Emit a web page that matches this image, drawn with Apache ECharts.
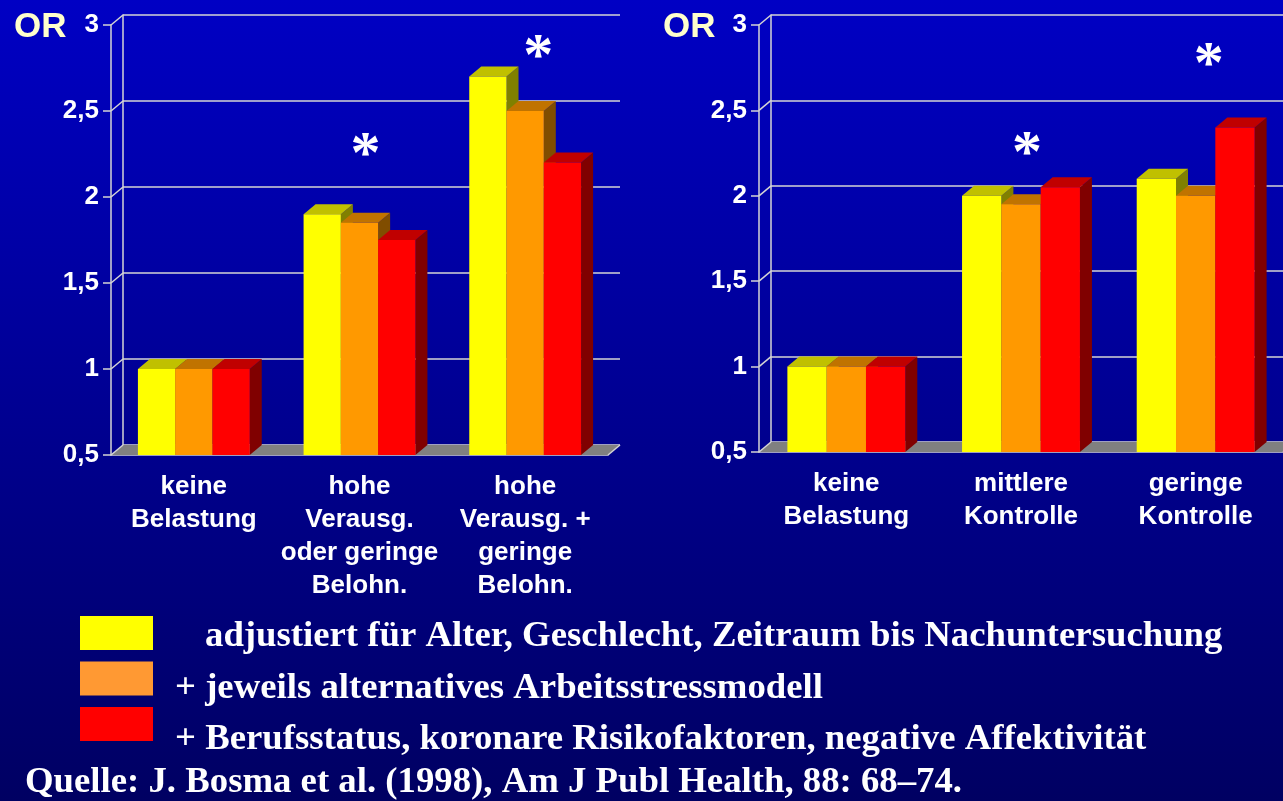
<!DOCTYPE html>
<html>
<head>
<meta charset="utf-8">
<script src="https://cdn.jsdelivr.net/npm/echarts@6/dist/echarts.min.js"></script>
<style>
  html, body { margin: 0; padding: 0; }
  #chart { width: 1283px; height: 801px; }
</style>
</head>
<body>
<div id="chart"></div>
<script>
const leftCategories = ['keine\nBelastung', 'hohe\nVerausg.\noder geringe\nBelohn.', 'hohe\nVerausg. +\ngeringe\nBelohn.'];
const rightCategories = ['keine\nBelastung', 'mittlere\nKontrolle', 'geringe\nKontrolle'];
const seriesNames = [
  'adjustiert für Alter, Geschlecht, Zeitraum bis Nachuntersuchung',
  '+ jeweils alternatives Arbeitsstressmodell',
  '+ Berufsstatus, koronare Risikofaktoren, negative Affektivität'
];
const leftAdjusted = [1.0, 1.9, 2.7];
const leftStressModel = [1.0, 1.85, 2.5];
const leftFullModel = [1.0, 1.75, 2.2];
const rightAdjusted = [1.0, 2.0, 2.1];
const rightStressModel = [1.0, 1.95, 2.0];
const rightFullModel = [1.0, 2.05, 2.4];
const leftStars = [null, 2.3, 2.87];
const rightStars = [null, 2.3, 2.82];
const yTicks = [0.5, 1, 1.5, 2, 2.5, 3];
const yTickLabels = ['0,5', '1', '1,5', '2', '2,5', '3'];
const source = 'Quelle: J. Bosma et al. (1998), Am J Publ Health, 88: 68–74.';

const yMin = 0.5, yMax = 3, yStep = 0.5;
const depthX = 12, depthY = 10;
const lineGray = '#D4D4D4';
const sans = 'Liberation Sans';
const serifFont = 'bold 36.75px "Liberation Serif"';
const barColors = [
  { front: '#FFFF00', top: '#C0C000', side: '#808000' },
  { front: '#FF9900', top: '#C07300', side: '#804D00' },
  { front: '#FF0000', top: '#C00000', side: '#800000' }
];
const legendColors = ['#FFFF00', '#FF9933', '#FF0000'];

const chart = echarts.init(document.getElementById('chart'));

function barRenderer(slot) {
  const c = barColors[slot];
  return function (params, api) {
    const cat = api.value(0);
    const top = api.coord([cat, api.value(1)]);
    const base = api.coord([cat, yMin]);
    const bw = api.size([1, 0])[0] * 0.225;
    const x0 = top[0] - 1.5 * bw + slot * bw;
    const x1 = x0 + bw;
    const yt = top[1], yb = base[1];
    return {
      type: 'group',
      children: [
        { type: 'polygon', shape: { points: [[x1, yt], [x1 + depthX, yt - depthY], [x1 + depthX, yb - depthY], [x1, yb]] }, style: { fill: c.side } },
        { type: 'polygon', shape: { points: [[x0, yt], [x1, yt], [x1 + depthX, yt - depthY], [x0 + depthX, yt - depthY]] }, style: { fill: c.top } },
        { type: 'rect', shape: { x: x0, y: yt, width: bw, height: yb - yt }, style: { fill: c.front } }
      ]
    };
  };
}

// floor + little diagonals from the front axis to the back wall
function wallRenderer(params, api) {
  const cs = params.coordSys;
  const y = api.coord([0, api.value(1)])[1];
  const x = cs.x;
  const children = [
    { type: 'line', shape: { x1: x, y1: y, x2: x + depthX, y2: y - depthY }, style: { stroke: lineGray, lineWidth: 1.5 } }
  ];
  if (params.dataIndex === 0) {
    const xr = cs.x + cs.width;
    children.unshift({ type: 'polygon', shape: { points: [[x, y], [xr, y], [xr + depthX, y - depthY], [x + depthX, y - depthY]] }, style: { fill: '#808080' } });
    children.push({ type: 'line', shape: { x1: xr, y1: y, x2: xr + depthX, y2: y - depthY }, style: { stroke: lineGray, lineWidth: 1.5 } });
  }
  return { type: 'group', children: children };
}

function starRenderer(params, api) {
  const cat = api.value(0);
  const p = api.coord([cat, api.value(1)]);
  const dx = cat === 1 ? 6 : 13;
  return {
    type: 'text', x: p[0] + dx, y: p[1] + 11,
    style: { text: '*', fill: '#FFFFFF', font: 'bold 60px "Liberation Serif"', align: 'center', verticalAlign: 'middle' }
  };
}

function frontX(grid, cats) {
  return {
    gridIndex: grid, type: 'category', data: cats,
    axisLine: { lineStyle: { color: lineGray, width: 1.5 } },
    axisTick: { length: 9, lineStyle: { color: lineGray, width: 1.5 } },
    axisLabel: { interval: 0, color: '#FFFFFF', fontSize: 26, fontWeight: 'bold', fontFamily: sans, lineHeight: 33, margin: 15 },
    splitLine: { show: false }
  };
}
function frontY(grid) {
  return {
    gridIndex: grid, type: 'value', min: yMin, max: yMax, interval: yStep,
    axisLine: { show: true, lineStyle: { color: lineGray, width: 1.5 } },
    axisTick: { show: true, length: 8, lineStyle: { color: lineGray, width: 1.5 } },
    axisLabel: { color: '#FFFFFF', fontSize: 26, fontWeight: 'bold', fontFamily: sans, margin: 12,
      formatter: function (v) { return yTickLabels[yTicks.indexOf(v)]; } },
    splitLine: { show: false }
  };
}
function backX(grid) {
  return { gridIndex: grid, type: 'category', data: [0, 1, 2], show: false };
}
function backY(grid) {
  return {
    gridIndex: grid, type: 'value', min: yMin, max: yMax, interval: yStep,
    axisLine: { show: true, lineStyle: { color: lineGray, width: 1.5 } },
    axisTick: { show: false }, axisLabel: { show: false },
    splitLine: { show: true, lineStyle: { color: lineGray, width: 1.5 } }
  };
}

function chartSeries(axis, values, stars) {
  const list = [{
    type: 'custom', xAxisIndex: axis, yAxisIndex: axis, z: 1, silent: true,
    renderItem: wallRenderer, data: yTicks.map(function (v) { return [0, v]; })
  }];
  values.forEach(function (vals, i) {
    list.push({
      name: seriesNames[i], type: 'custom', xAxisIndex: axis, yAxisIndex: axis, z: 2 + i,
      itemStyle: { color: legendColors[i] },
      renderItem: barRenderer(i),
      data: vals.map(function (v, k) { return [k, v]; })
    });
  });
  list.push({
    type: 'custom', xAxisIndex: axis, yAxisIndex: axis, z: 10, silent: true,
    renderItem: starRenderer,
    data: stars.map(function (v, k) { return v == null ? null : [k, v]; }).filter(Boolean)
  });
  return list;
}

// legend swatches from the library; the texts are placed as graphic to match the slide indents
const legendTextX = [205, 175, 175];
const legendTextY = [636, 688, 739];

chart.setOption({
  backgroundColor: {
    type: 'linear', x: 0, y: 0, x2: 0, y2: 1,
    colorStops: [{ offset: 0, color: '#0000C4' }, { offset: 1, color: '#000062' }]
  },
  animation: false,
  grid: [
    { left: 111, top: 25, width: 497, height: 430 },
    { left: 111 + depthX, top: 25 - depthY, width: 497, height: 430 },
    { left: 759, top: 25, width: 530, height: 427 },
    { left: 759 + depthX, top: 25 - depthY, width: 530, height: 427 }
  ],
  xAxis: [frontX(0, leftCategories), backX(1), frontX(2, rightCategories), backX(3)],
  yAxis: [frontY(0), backY(1), frontY(2), backY(3)],
  legend: {
    left: 80, top: 616, padding: 0, orient: 'vertical', selectedMode: false,
    itemWidth: 73, itemHeight: 34, itemGap: 11.5, icon: 'rect',
    formatter: function () { return ''; },
    data: seriesNames.map(function (n, i) { return { name: n, itemStyle: { color: legendColors[i] } }; })
  },
  graphic: [
    { type: 'text', left: 14, top: 10, style: { text: 'OR', fill: '#FFFFCC', font: 'bold 35px "Liberation Sans"' } },
    { type: 'text', left: 663, top: 10, style: { text: 'OR', fill: '#FFFFCC', font: 'bold 35px "Liberation Sans"' } },
    { type: 'text', x: 25, y: 782, style: { text: source, fill: '#FFFFFF', font: serifFont, verticalAlign: 'middle' } }
  ].concat(seriesNames.map(function (n, i) {
    return { type: 'text', x: legendTextX[i], y: legendTextY[i], style: { text: n, fill: '#FFFFFF', font: serifFont, verticalAlign: 'middle' } };
  })),
  series: chartSeries(0, [leftAdjusted, leftStressModel, leftFullModel], leftStars)
    .concat(chartSeries(2, [rightAdjusted, rightStressModel, rightFullModel], rightStars))
});
</script>
</body>
</html>
